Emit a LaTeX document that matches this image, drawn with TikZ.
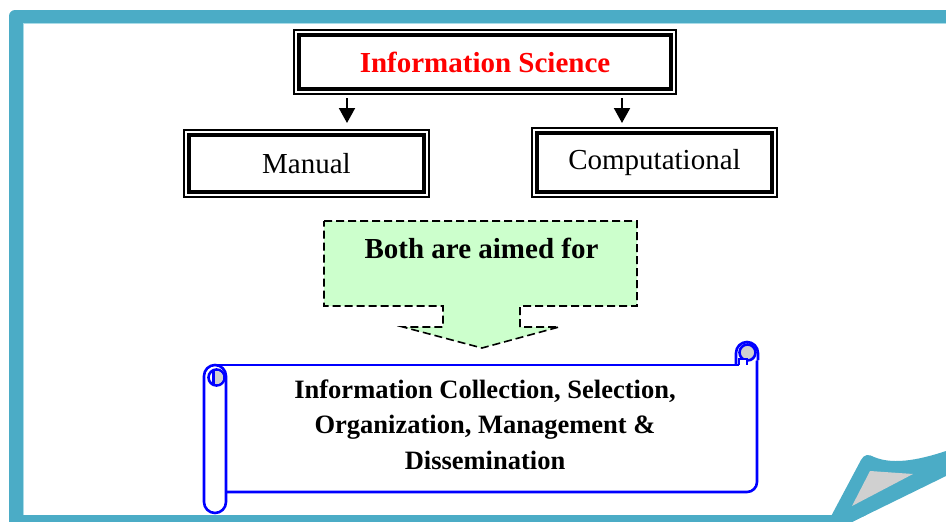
\documentclass[tikz,border=0pt]{standalone}
\usepackage{fontspec}
\setmainfont{Liberation Serif}
\usetikzlibrary{arrows.meta}
\definecolor{frameteal}{HTML}{4BACC6}
\definecolor{teallight}{HTML}{A9DCE8}
\definecolor{calloutgreen}{HTML}{CCFFCC}
\definecolor{curlgray}{HTML}{D0D0D0}
\definecolor{scrollblue}{HTML}{0000FF}
\definecolor{infored}{HTML}{FF0000}
\begin{document}
\begin{tikzpicture}[x=1pt,y=-1pt,
  box/.style={draw=black,line width=3.1pt,inner sep=0pt,outer sep=0pt},
  bigreg/.style={font=\fontsize{29}{34}\selectfont},
  bigbold/.style={font=\fontsize{29}{34}\selectfont\bfseries},
  scrollbold/.style={font=\fontsize{26.5}{35}\selectfont\bfseries},
  outerline/.style={draw=black,line width=1.9pt},
  arr/.style={line width=2pt,-{Triangle[width=16pt,length=15pt]}},
  scroll/.style={draw=scrollblue,line width=2.6pt},
  callout/.style={draw=black,fill=calloutgreen,line width=1.6pt,dash pattern=on 8pt off 4pt}]
\useasboundingbox (0,0) rectangle (946,522);
\clip (0,0) rectangle (946,522);
% frame
\fill[frameteal,rounded corners=6pt] (9,10) rectangle (1000,600);
\fill[white] (23,23) rectangle (990,515);
\draw[teallight,line width=1pt] (23.5,515) -- (23.5,23.5) -- (990,23.5);
% page curl
\fill[white] (852,522) -- (946,476) -- (946,522) -- cycle;
\fill[frameteal] (828,522) -- (861,460) .. controls (864,454) and (869,454) .. (874,457)
  .. controls (895,466) and (925,458) .. (946,451) -- (946,476) -- (852,522) -- cycle;
\fill[curlgray] (870,471) -- (913,474) -- (852,506) -- cycle;
% top boxes
\node[box,bigbold,text=infored,minimum width=372pt,minimum height=54pt] (info) at (485,62) {Information Science};
\draw[outerline] ([shift={(-5pt,5pt)}]info.north west) rectangle ([shift={(5pt,-5pt)}]info.south east);
\node[box,bigreg,minimum width=235pt,minimum height=57pt] (manual) at (306.5,163.5) {Manual};
\draw[outerline] ([shift={(-5pt,5pt)}]manual.north west) rectangle ([shift={(5pt,-5pt)}]manual.south east);
\node[box,bigreg,minimum width=235pt,minimum height=59pt] (comp) at (654.5,162.5) {Computational};
\draw[outerline] ([shift={(-5pt,5pt)}]comp.north west) rectangle ([shift={(5pt,-5pt)}]comp.south east);
\draw[arr] ([shift={(-138pt,-9pt)}]info.south) -- ([shift={(40.5pt,12pt)}]manual.north);
\draw[arr] ([shift={(137pt,-9pt)}]info.south) -- ([shift={(-32.5pt,10pt)}]comp.north);
% callout
\draw[callout] (324,221) -- (637,221) -- (637,306) -- (520,306) -- (520,327) -- (559,327)
  -- (482,348) -- (403,327) -- (443,327) -- (443,306) -- (324,306) -- cycle;
\node[bigbold,anchor=base,inner sep=0pt] (both) at (481.5,258) {Both are aimed for};
% scroll
\path[fill=white] (215,365) rectangle (757,492);
\draw[scroll,rounded corners=10pt] (757,353) -- (757,492) -- (226,492);
\draw[scroll,fill=white] (736,365) -- (736,353) .. controls (736,346.9) and (740.9,342) .. (747,342)
  .. controls (753.1,342) and (758,346.9) .. (758,353) -- (758,360);
\draw[scroll,fill=curlgray] (747.5,352.5) circle[radius=8pt];
\draw[scroll,fill=white] (739,365) -- (739,359) -- (747,359) -- (747,365);
\draw[scroll,fill=white,rounded corners=11pt] (204,365) rectangle (226,513);
\draw[scroll] (215,365) -- (739,365);
\draw[scroll,fill=white] (216.5,377.5) circle[radius=8pt];
\begin{scope}
  \clip (213.5,368) rectangle (226,387);
  \fill[curlgray] (216.5,377.5) circle[radius=6.5pt];
\end{scope}
\draw[scroll] (213.5,371) -- (213.5,385);
\node[scrollbold,anchor=base,inner sep=0pt] (s1) at (485,398) {Information Collection, Selection,};
\node[scrollbold,anchor=base,inner sep=0pt] (s2) at (485,433) {Organization, Management \&};
\node[scrollbold,anchor=base,inner sep=0pt] (s3) at (485,469) {Dissemination};
\end{tikzpicture}
\end{document}
